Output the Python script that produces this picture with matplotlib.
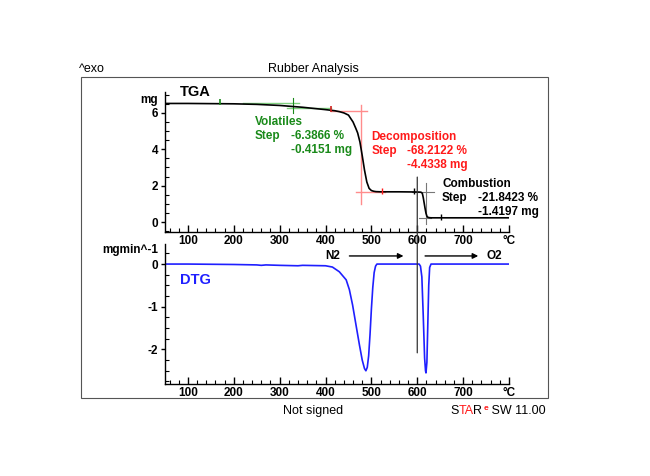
import matplotlib
matplotlib.use("Agg")
import matplotlib.pyplot as plt
from matplotlib.patches import Rectangle, ConnectionPatch
from matplotlib.ticker import MultipleLocator, FixedLocator

plt.rcParams['font.family'] = ['Liberation Sans', 'DejaVu Sans']

# TGA curve (mg vs degC)
temp_tga = [50, 100, 150, 200, 250, 300, 350, 400, 420, 430, 440, 450, 460, 466, 470, 475,
            480, 485, 490, 495, 500, 505, 510, 520, 560, 600, 608, 611, 613, 615, 617, 619,
            621, 623, 626, 630, 700, 800]
mass_tga = [6.52, 6.52, 6.51, 6.50, 6.47, 6.41, 6.31, 6.18, 6.12, 6.07, 6.00, 5.88, 5.50,
            5.15, 4.90, 4.40, 3.65, 2.85, 2.20, 1.85, 1.73, 1.69, 1.67, 1.66, 1.66, 1.65,
            1.64, 1.58, 1.35, 1.05, 0.75, 0.48, 0.32, 0.26, 0.24, 0.23, 0.23, 0.23]

# DTG curve (mg/min vs degC)
temp_dtg = [50, 100, 150, 200, 250, 260, 270, 300, 340, 350, 400, 415, 430, 445, 452, 459,
            466, 474, 480, 485, 488, 491, 494, 497, 500, 503, 506, 509, 512, 520, 560, 600,
            604, 607, 610, 613, 616, 618, 619, 621, 623, 625, 627, 630, 700, 800]
rate_dtg = [0.0, 0.0, -0.005, -0.01, -0.02, -0.03, -0.02, -0.03, -0.04, -0.03, -0.04, -0.07,
            -0.18, -0.37, -0.60, -0.96, -1.40, -1.90, -2.25, -2.45, -2.50, -2.42, -2.15,
            -1.65, -1.05, -0.55, -0.20, -0.05, 0.0, 0.0, 0.0, 0.0, 0.0, -0.05, -0.30, -1.20,
            -2.20, -2.50, -2.55, -2.30, -1.40, -0.50, -0.08, 0.0, 0.0, 0.0]

x_ticks = [100, 200, 300, 400, 500, 600, 700, 800]
x_labels = ['100', '200', '300', '400', '500', '600', '700', '°C']

# step evaluations: (name, colour, step %, step mg)
steps = [
    ('Volatiles', '#1a8a1a', '-6.3866 %', '-0.4151 mg'),
    ('Decomposition', '#ff1a1a', '-68.2122 %', '-4.4338 mg'),
    ('Combustion', 'black', '-21.8423 %', '-1.4197 mg'),
]

W, H = 650, 476
fig = plt.figure(figsize=(6.5, 4.76), dpi=100)

def fx(px):
    return px / W

def fy(py):
    return 1 - py / H

fig.add_artist(Rectangle((fx(81), fy(398)), fx(548) - fx(81), fy(77) - fy(398),
                         transform=fig.transFigure, fill=False, ec='#555555', lw=0.8))

ax1 = fig.add_axes([fx(165), fy(232), fx(509) - fx(165), fy(92) - fy(232)])
ax2 = fig.add_axes([fx(165), fy(384), fx(509) - fx(165), fy(244) - fy(384)])

bold = dict(fontsize=8.5, fontweight='bold')
for ax in (ax1, ax2):
    ax.set_xlim(50, 800)
    ax.spines['top'].set_visible(False)
    ax.spines['right'].set_visible(False)
    for s in ('left', 'bottom'):
        ax.spines[s].set_linewidth(1.0)
    ax.xaxis.set_major_locator(FixedLocator(x_ticks))
    ax.set_xticklabels(x_labels, **bold)
    ax.xaxis.set_minor_locator(MultipleLocator(20))
    ax.tick_params(axis='x', which='major', direction='in', length=5, width=1.0, pad=2)
    ax.tick_params(axis='x', which='minor', direction='in', length=3, width=0.8)
    ax.tick_params(axis='y', which='major', direction='out', length=3, width=1.0, pad=2)
    ax.tick_params(axis='y', which='minor', direction='in', length=3, width=0.8)

ax1.set_ylim(-0.55, 7.15)
ax1.set_yticks([0, 2, 4, 6])
ax1.set_yticklabels(['0', '2', '4', '6'], **bold)
ax1.yaxis.set_minor_locator(MultipleLocator(0.5))
ax2.set_ylim(-2.81, 0.47)
ax2.set_yticks([-2, -1, 0])
ax2.set_yticklabels(['-2', '-1', '0'], **bold)
ax2.yaxis.set_minor_locator(MultipleLocator(0.25))

# evaluation helper lines (drawn beneath the curve)
ax1.plot([220, 343], [6.54, 6.54], color='#7fd07f', lw=1.0)
ax1.plot([317, 413], [6.26, 6.26], color='#7fd07f', lw=1.0)
ax1.plot([330, 330], [5.99, 6.81], color='#1a8a1a', lw=0.8)
ax1.plot([413, 491], [6.12, 6.12], color='#ff8c8c', lw=1.0)
ax1.plot([478, 478], [1.0, 6.45], color='#ff8c8c', lw=1.0)
ax1.plot([467, 530], [1.66, 1.66], color='#ff8c8c', lw=1.0)
ax1.plot([589, 637], [1.66, 1.66], color='#777777', lw=0.8)
ax1.plot([604, 630], [0.22, 0.22], color='#777777', lw=0.8)
ax1.plot([620, 620], [-0.1, 2.14], color='#777777', lw=0.8)

ax1.plot(temp_tga, mass_tga, color='black', lw=1.2)
ax2.plot(temp_dtg, rate_dtg, color='#1f1fff', lw=1.2)

# little evaluation limit markers
ax1.plot([170], [6.6], marker='|', color='#1a8a1a', ms=4, mew=1.2)
ax1.plot([413], [6.2], marker='|', color='#d02020', ms=4, mew=1.2)
ax1.plot([524], [1.7], marker='|', color='#ff1a1a', ms=4, mew=1.0)
ax1.plot([593], [1.72], marker='|', color='black', ms=4, mew=1.0)
ax1.plot([652], [0.28], marker='|', color='black', ms=4, mew=1.0)

# vertical 600 degC line crossing both panels
con = ConnectionPatch(xyA=(600, 2.47), coordsA=ax1.transData,
                      xyB=(600, -2.08), coordsB=ax2.transData,
                      color='#333333', lw=0.9)
fig.add_artist(con)

# step texts
ann_pos = [(245, 5.49, 325), (500, 4.67, 578), (654, 2.09, 733)]
dy = 0.77
for (name, col, pct, mg), (x0, y0, x1) in zip(steps, ann_pos):
    ax1.text(x0, y0, name, color=col, ha='left', va='center', **bold)
    ax1.text(x0, y0 - dy, 'Step', color=col, ha='left', va='center', **bold)
    ax1.text(x1, y0 - dy, pct, color=col, ha='left', va='center', **bold)
    ax1.text(x1, y0 - 2 * dy, mg, color=col, ha='left', va='center', **bold)

# labels
fig.text(fx(180), fy(92), 'TGA', fontsize=10.5, fontweight='bold', ha='left', va='center')
fig.text(fx(158), fy(100), 'mg', ha='right', va='center', **bold)
fig.text(fx(158), fy(250), 'mgmin^-1', ha='right', va='center', **bold)
ax2.text(83, -0.37, 'DTG', color='#1f1fff', fontsize=10.5, fontweight='bold',
         ha='left', va='center')

ax2.text(415, 0.19, 'N2', ha='center', va='center', **bold)
ax2.annotate('', xy=(576, 0.19), xytext=(446, 0.19),
             arrowprops=dict(arrowstyle='-|>', color='black', lw=1.0, mutation_scale=8))
ax2.annotate('', xy=(739, 0.19), xytext=(611, 0.19),
             arrowprops=dict(arrowstyle='-|>', color='black', lw=1.0, mutation_scale=8))
ax2.text(750, 0.19, 'O2', ha='left', va='center', **bold)

fig.text(fx(79), fy(69), '^exo', fontsize=9, ha='left', va='center')
fig.text(fx(313), fy(69), 'Rubber Analysis', fontsize=9, ha='center', va='center')
fig.text(fx(313), fy(411), 'Not signed', fontsize=9, ha='center', va='center')

# STAR^e SW 11.00 footer, built from coloured pieces
s = fig.text(fx(450), fy(411), 'S', fontsize=9, ha='left', va='center')
ta = ax1.annotate('TA', xy=(1, 0), xycoords=s, fontsize=9, color='#ff1a1a',
                  ha='left', va='bottom', annotation_clip=False)
r = ax1.annotate('R', xy=(1, 0), xycoords=ta, fontsize=9, ha='left', va='bottom',
                 annotation_clip=False)
e = ax1.annotate('e', xy=(1, 1), xycoords=r, xytext=(0.5, -5), textcoords='offset points',
                 fontsize=6, fontweight='bold', color='#ff1a1a', ha='left', va='bottom',
                 annotation_clip=False)
ax1.annotate(' SW 11.00', xy=(1, 0), xycoords=(e, r), fontsize=9, ha='left', va='bottom',
             annotation_clip=False)

fig.savefig('out.png', dpi=100)
